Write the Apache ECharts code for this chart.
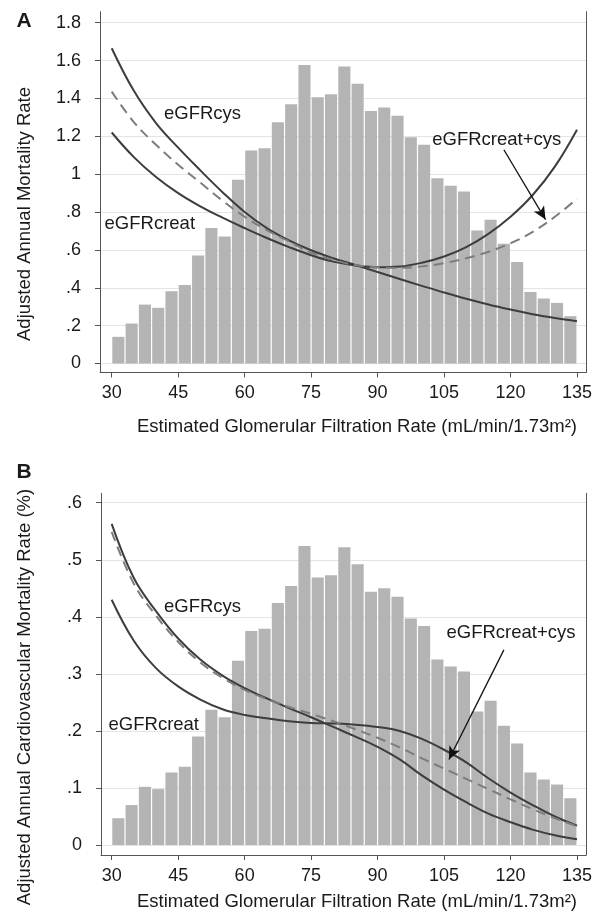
<!DOCTYPE html>
<html><head><meta charset="utf-8">
<script src="https://cdn.jsdelivr.net/npm/echarts@6/dist/echarts.min.js"></script>
<style>html,body{margin:0;padding:0;background:#fff}#c{width:597px;height:914px}</style>
</head><body><div id="c"></div>
<script>
// ---------- data ----------
const binStarts = [30,33,36,39,42,45,48,51,54,57,60,63,66,69,72,75,78,81,84,87,90,93,96,99,102,105,108,111,114,117,120,123,126,129,132];
const binWidth = 3;
const histA = [0.141,0.211,0.311,0.294,0.381,0.415,0.571,0.715,0.671,0.970,1.125,1.137,1.274,1.369,1.577,1.406,1.422,1.568,1.477,1.334,1.352,1.308,1.195,1.155,0.979,0.939,0.909,0.703,0.759,0.633,0.536,0.378,0.343,0.320,0.250];
const histB = [0.047,0.070,0.102,0.098,0.127,0.137,0.190,0.237,0.224,0.323,0.375,0.379,0.424,0.454,0.524,0.469,0.473,0.522,0.492,0.444,0.450,0.435,0.397,0.384,0.325,0.313,0.304,0.234,0.253,0.209,0.178,0.127,0.115,0.106,0.082];

const gfr = [30,35,40,45,50,55,60,65,70,75,80,85,90,95,100,105,110,115,120,125,130,135];
const cysA   = [1.665,1.44,1.27,1.14,1.02,0.905,0.80,0.715,0.65,0.598,0.556,0.52,0.483,0.446,0.41,0.375,0.342,0.312,0.285,0.26,0.24,0.223];
const creatA = [1.22,1.09,0.985,0.90,0.83,0.77,0.715,0.663,0.615,0.572,0.538,0.518,0.508,0.512,0.532,0.565,0.615,0.685,0.775,0.89,1.04,1.235];
const bothA  = [1.436,1.275,1.155,1.05,0.955,0.86,0.775,0.705,0.645,0.585,0.547,0.52,0.508,0.505,0.513,0.53,0.556,0.59,0.635,0.695,0.775,0.87];

const cysB   = [0.563,0.468,0.41,0.362,0.325,0.297,0.275,0.257,0.24,0.224,0.207,0.19,0.172,0.15,0.122,0.097,0.075,0.055,0.04,0.027,0.017,0.01];
const creatB = [0.43,0.358,0.31,0.278,0.255,0.238,0.228,0.222,0.217,0.214,0.213,0.211,0.207,0.2,0.186,0.167,0.145,0.117,0.092,0.07,0.05,0.034];
const bothB  = [0.549,0.458,0.402,0.356,0.32,0.293,0.272,0.256,0.242,0.23,0.217,0.203,0.188,0.171,0.152,0.134,0.116,0.098,0.08,0.063,0.047,0.033];

const xTicks = [30,45,60,75,90,105,120,135];
const yTicksA = [0,0.2,0.4,0.6,0.8,1,1.2,1.4,1.6,1.8];
const yTicksB = [0,0.1,0.2,0.3,0.4,0.5,0.6];

const labelsA = [
  {text:'eGFRcys', x:50.5, y:1.319},
  {text:'eGFRcreat', x:38.6, y:0.738},
  {text:'eGFRcreat+cys', x:116.9, y:1.181}
];
const labelsB = [
  {text:'eGFRcys', x:50.5, y:0.417},
  {text:'eGFRcreat', x:39.5, y:0.210},
  {text:'eGFRcreat+cys', x:120.1, y:0.372}
];
const arrowA = [[118.5, 1.129],[127.9, 0.76]];
const arrowB = [[118.5, 0.342],[106.1, 0.15]];

// ---------- styles ----------
const FONT = '"Liberation Sans", Arial, Helvetica, sans-serif';
const TXT = '#1a1a1a';
const AXC = '#555';
const yFmt = v => v === 0 ? '0' : String(Math.round(v*10)/10).replace(/^0\./, '.');

function xAxis(gi){
  return {type:'value', gridIndex:gi, min: gi===0?27.36:27.59, max:137.03,
    axisLine:{show:true, onZero:false, lineStyle:{color:AXC, width:1}},
    axisTick:{show:true, length:5, customValues:xTicks, lineStyle:{color:AXC}},
    axisLabel:{customValues:xTicks, margin:12, color:TXT, fontSize:18, fontFamily:FONT},
    splitLine:{show:false}};
}
function yAxisL(gi, min, max, ticks){
  return {type:'value', gridIndex:gi, min, max, position:'left',
    axisLine:{show:true, onZero:false, lineStyle:{color:AXC, width:1}},
    axisTick:{show:true, length:5, customValues:ticks, lineStyle:{color:AXC}},
    axisLabel:{customValues:ticks, margin:19, color:TXT, fontSize:18, fontFamily:FONT, formatter:yFmt},
    splitLine:{show:true, lineStyle:{color:'#e4e4e4', width:1}}};
}
function yAxisR(gi, min, max){
  return {type:'value', gridIndex:gi, min, max, position:'right',
    axisLine:{show:true, onZero:false, lineStyle:{color:AXC, width:1}},
    axisTick:{show:false}, axisLabel:{show:false}, splitLine:{show:false}};
}
function hist(xi, yi, vals){
  return {type:'custom', xAxisIndex:xi, yAxisIndex:yi, silent:true, z:1,
    data: binStarts.map((s,i)=>[s, s+binWidth, vals[i]]),
    encode:{x:[0,1], y:2},
    renderItem(params, api){
      const p0 = api.coord([api.value(0), api.value(2)]);
      const p1 = api.coord([api.value(1), 0]);
      return {type:'rect', shape:{x:p0[0]+0.6, y:p0[1], width:p1[0]-p0[0]-1.2, height:p1[1]-p0[1]},
        style:{fill:'#b4b4b4'}};
    }};
}
function curve(xi, yi, ys, dashed, extra){
  const s = {type:'line', xAxisIndex:xi, yAxisIndex:yi, smooth:0.4, showSymbol:false, silent:true, z:3,
    data: gfr.map((g,i)=>[g, ys[i]]),
    lineStyle: dashed ? {color:'#7d7d7d', width:2, type:[10,6]} : {color:'#3d3d3d', width:2}};
  return Object.assign(s, extra||{});
}
function arrow(pts){
  return {markLine:{silent:true, animation:false, symbol:['none','arrow'], symbolSize:[9,13], label:{show:false},
    lineStyle:{color:'#111', width:1.3, type:'solid'},
    itemStyle:{color:'#111'},
    data:[[{coord:pts[0]},{coord:pts[1]}]]}};
}

const chart = echarts.init(document.getElementById('c'), null, {renderer:'canvas'});
chart.setOption({
  animation:false,
  backgroundColor:'#fff',
  grid:[
    {left:100, width:486, top:11.7, height:360.8},
    {left:101, width:485, top:493.3, height:361.7}
  ],
  xAxis:[xAxis(0), xAxis(1)],
  yAxis:[yAxisL(0,-0.0475,1.858,yTicksA), yAxisR(0,-0.0475,1.858), yAxisL(1,-0.0175,0.6165,yTicksB), yAxisR(1,-0.0175,0.6165)],
  series:[
    hist(0,0,histA),
    curve(0,0,cysA,false),
    curve(0,0,creatA,false),
    curve(0,0,bothA,true, arrow(arrowA)),
    hist(1,2,histB),
    curve(1,2,cysB,false),
    curve(1,2,creatB,false),
    curve(1,2,bothB,true, arrow(arrowB))
  ]
});

const txt = (text, x, y, size, extra) => Object.assign({type:'text', x, y, z:100,
  style:{text, fill:TXT, font: (extra&&extra.bold?'bold ':'') + size + 'px ' + FONT,
    align:'center', verticalAlign:'middle', textAlign:'center', textVerticalAlign:'middle'}}, extra&&extra.rotation!==undefined?{rotation:extra.rotation}:{});

const g = [
  txt('A', 24, 21, 21, {bold:true}),
  txt('B', 24, 472, 21, {bold:true}),
  txt('Adjusted Annual Mortality Rate', 25, 214, 18.5, {rotation:Math.PI/2}),
  txt('Adjusted Annual Cardiovascular Mortality Rate (%)', 25, 697, 18.5, {rotation:Math.PI/2}),
  txt('Estimated Glomerular Filtration Rate (mL/min/1.73m\u00B2)', 357, 427, 18.5),
  txt('Estimated Glomerular Filtration Rate (mL/min/1.73m\u00B2)', 357, 902, 18.5)
];
labelsA.forEach(l => { const p = chart.convertToPixel({gridIndex:0}, [l.x, l.y]); g.push(txt(l.text, p[0], p[1], 18.5)); });
labelsB.forEach(l => { const p = chart.convertToPixel({gridIndex:1}, [l.x, l.y]); g.push(txt(l.text, p[0], p[1], 18.5)); });
chart.setOption({graphic:{elements:g}});
</script></body></html>
